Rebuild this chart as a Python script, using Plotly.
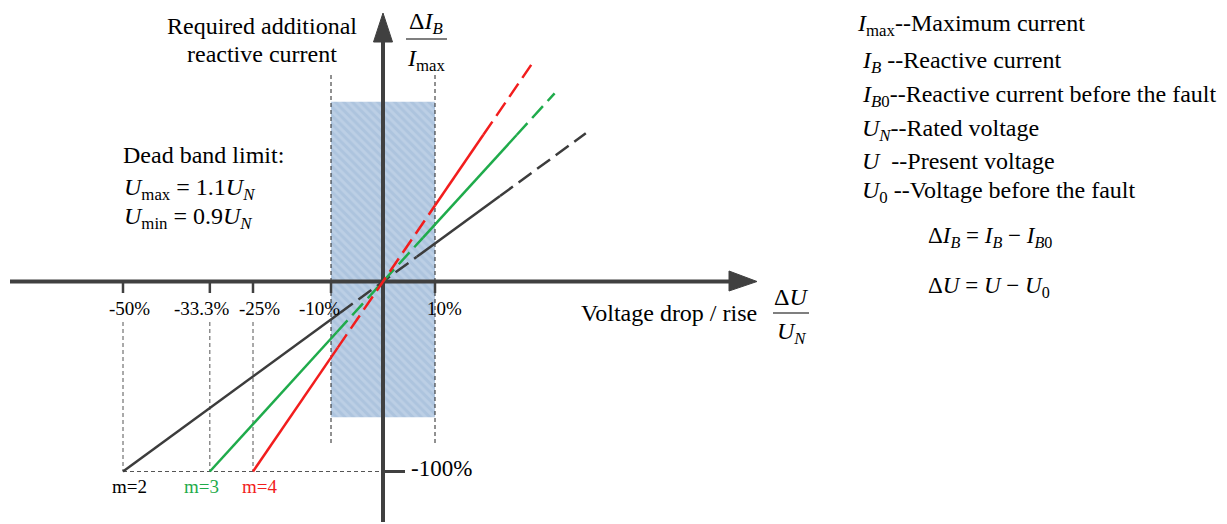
import plotly.graph_objects as go

# ---- chart values (percent units) ----
# x: voltage deviation dU/U_N in %, y: additional reactive current dI_B/I_max in %
TICK_X = [-50, -33.3, -25, -10, 10]
TICK_LABELS = ["-50%", "-33.3%", "-25%", "-10%", "10%"]
Y_MARK = -100
Y_MARK_LABEL = "-100%"

# characteristic lines, vertices and the dash style of each segment between them
SERIES_NAMES = ["m=2", "m=3", "m=4"]
M2_X = [-50, -8.3, 6.5, 22.5, 39]
M2_Y = [-100, -16.6, 13, 45, 78]
M3_X = [-33.3, -8.9, 7.7, 25.7, 33]
M3_Y = [-100, -26.7, 23.1, 77.1, 99]
M4_X = [-25, -8.7, 10, 19.3, 28.5]
M4_Y = [-100, -34.8, 40, 77.2, 114]
SEGMENT_STYLE = ["solid", "dash", "solid", "dash"]

# dead band (shaded region)
BAND_X = [-10, 10]
BAND_Y = [-71.5, 94.6]

# ---- styling ----
W, H = 1227, 524
X0_PX, Y0_PX = 383, 281.5      # pixel position of the origin
SX, SY = 5.2, 1.9              # pixels per percent
FONT = "Liberation Serif, Times New Roman, serif"
AXIS_C = "#404040"
COLORS = ["#3c3c3c", "#1fab4b", "#f21d1d"]
LABEL_COLORS = ["#000000", "#1fab4b", "#f21d1d"]


def dx(px):
    return (px - X0_PX) / SX


def dy(py):
    return (Y0_PX - py) / SY


def pxp(px):
    return px / W


def pyp(py):
    return 1 - py / H


fig = go.Figure()


def add_line(xs, ys, color, width, dash="solid", fill=None):
    fig.add_trace(go.Scatter(
        x=xs, y=ys, mode="lines", hoverinfo="skip", showlegend=False,
        line=dict(color=color, width=width, dash=dash),
        fill=fill, fillcolor=color if fill else None,
    ))


# dead band with hatched fill
fig.add_trace(go.Scatter(
    x=[BAND_X[0], BAND_X[1], BAND_X[1], BAND_X[0], BAND_X[0]],
    y=[BAND_Y[0], BAND_Y[0], BAND_Y[1], BAND_Y[1], BAND_Y[0]],
    mode="lines", line=dict(width=0), fill="toself", fillcolor="#adc4de",
    fillpattern=dict(shape="\\", bgcolor="#adc4de", fgcolor="#bccfe5",
                     size=6, solidity=0.5, fillmode="replace"),
    hoverinfo="skip", showlegend=False,
))

# dashed guides
GUIDE_DASH = "4px,3px"
for bx in BAND_X:
    add_line([bx, bx], [dy(443), dy(75)], "#222222", 1, GUIDE_DASH)
for tx in TICK_X[:3]:
    add_line([tx, tx], [dy(322), Y_MARK], "#555555", 1, GUIDE_DASH)
add_line([TICK_X[0], 0], [Y_MARK, Y_MARK], "#555555", 1, GUIDE_DASH)

# axes with arrowheads
add_line([dx(10), dx(732)], [0, 0], AXIS_C, 4)
add_line([dx(757), dx(729), dx(729), dx(757)],
         [0, dy(271), dy(291), 0], AXIS_C, 1, fill="toself")
add_line([0, 0], [dy(522), dy(40)], AXIS_C, 4)
add_line([0, dx(373.5), dx(392.5), 0],
         [dy(13), dy(42), dy(42), dy(13)], AXIS_C, 1, fill="toself")

# tick marks
for tx in TICK_X:
    add_line([tx, tx], [0, dy(293)], AXIS_C, 2.5)
add_line([0, dx(405)], [Y_MARK, Y_MARK], AXIS_C, 3)

# characteristic lines
LINE_DASH = "16px,7px"
for xs, ys, col in [(M2_X, M2_Y, COLORS[0]), (M3_X, M3_Y, COLORS[1]), (M4_X, M4_Y, COLORS[2])]:
    for i, style in enumerate(SEGMENT_STYLE):
        add_line(xs[i:i + 2], ys[i:i + 2], col, 2.5,
                 "solid" if style == "solid" else LINE_DASH)

annotations = []


def text(x, y, s, size=24, xanchor="center", color="#000", ref="paper",
         xshift=0, yshift=0):
    annotations.append(dict(
        x=x, y=y, xref="x" if ref == "data" else "paper",
        yref="y" if ref == "data" else "paper", text=s, showarrow=False,
        xanchor=xanchor, yanchor="middle", xshift=xshift, yshift=yshift,
        font=dict(family=FONT, size=size, color=color),
    ))


# tick labels
LABEL_XSHIFT = [6, -8, 6, -12, 9]
for tx, lab, xs in zip(TICK_X, TICK_LABELS, LABEL_XSHIFT):
    text(tx, 0, lab, size=19, ref="data", xshift=xs, yshift=-26.5)
text(0, Y_MARK, Y_MARK_LABEL, size=23, xanchor="left", ref="data",
     xshift=26, yshift=3.5)

# slope labels under the line starts
SLOPE_XSHIFT = [6, -8, 6]
for xs, name, col, sh in zip([M2_X[0], M3_X[0], M4_X[0]], SERIES_NAMES,
                             LABEL_COLORS, SLOPE_XSHIFT):
    text(xs, Y_MARK, name, size=19, ref="data", color=col, xshift=sh, yshift=-14.5)

# titles and notes
text(pxp(262), pyp(26), "Required additional")
text(pxp(262), pyp(54), "reactive current")
text(pxp(121), pyp(155), "Dead band limit:", xanchor="left")
text(pxp(122), pyp(189), "<i>U</i><sub>max</sub> = 1.1<i>U</i><sub><i>N</i></sub>", xanchor="left")
text(pxp(122), pyp(218), "<i>U</i><sub>min</sub> = 0.9<i>U</i><sub><i>N</i></sub>", xanchor="left")
text(pxp(579), pyp(313), "Voltage drop / rise", xanchor="left")

# axis fractions
text(pxp(791), pyp(297), "Δ<i>U</i>")
text(pxp(791), pyp(333), "<i>U</i><sub><i>N</i></sub>")
text(pxp(426), pyp(23), "Δ<i>I</i><sub><i>B</i></sub>")
text(pxp(426), pyp(60), "<i>I</i><sub>max</sub>")

# symbol legend
LEGEND_ROWS = [
    "<i>I</i><sub>max</sub>--Maximum current",
    "<i>I</i><sub><i>B</i></sub> --Reactive current",
    "<i>I</i><sub><i>B</i>0</sub>--Reactive current before the fault",
    "<i>U</i><sub><i>N</i></sub>--Rated voltage",
    "<i>U</i>  --Present voltage",
    "<i>U</i><sub>0</sub> --Voltage before the fault",
]
LEGEND_PX = [(855, 25), (860, 62), (860, 96), (860, 130), (860, 161), (860, 192)]
for (lx, ly), row in zip(LEGEND_PX, LEGEND_ROWS):
    text(pxp(lx), pyp(ly), row, xanchor="left")
text(pxp(926), pyp(237),
     "Δ<i>I</i><sub><i>B</i></sub> = <i>I</i><sub><i>B</i></sub> − <i>I</i><sub><i>B</i>0</sub>",
     size=23, xanchor="left")
text(pxp(926), pyp(287), "Δ<i>U</i> = <i>U</i> − <i>U</i><sub>0</sub>",
     size=23, xanchor="left")

shapes = [
    dict(type="line", xref="paper", yref="paper", x0=pxp(773), x1=pxp(809),
         y0=pyp(313), y1=pyp(313), line=dict(color="#000", width=1.2)),
    dict(type="line", xref="paper", yref="paper", x0=pxp(406), x1=pxp(447),
         y0=pyp(39), y1=pyp(39), line=dict(color="#000", width=1.2)),
]

fig.update_layout(
    width=W, height=H, autosize=False,
    margin=dict(l=0, r=0, t=0, b=0),
    paper_bgcolor="white", plot_bgcolor="white",
    xaxis=dict(range=[dx(0), dx(W)], visible=False, fixedrange=True),
    yaxis=dict(range=[dy(H), dy(0)], visible=False, fixedrange=True),
    annotations=annotations, shapes=shapes, showlegend=False,
)

fig.write_html("out.html", config=dict(displayModeBar=False))
